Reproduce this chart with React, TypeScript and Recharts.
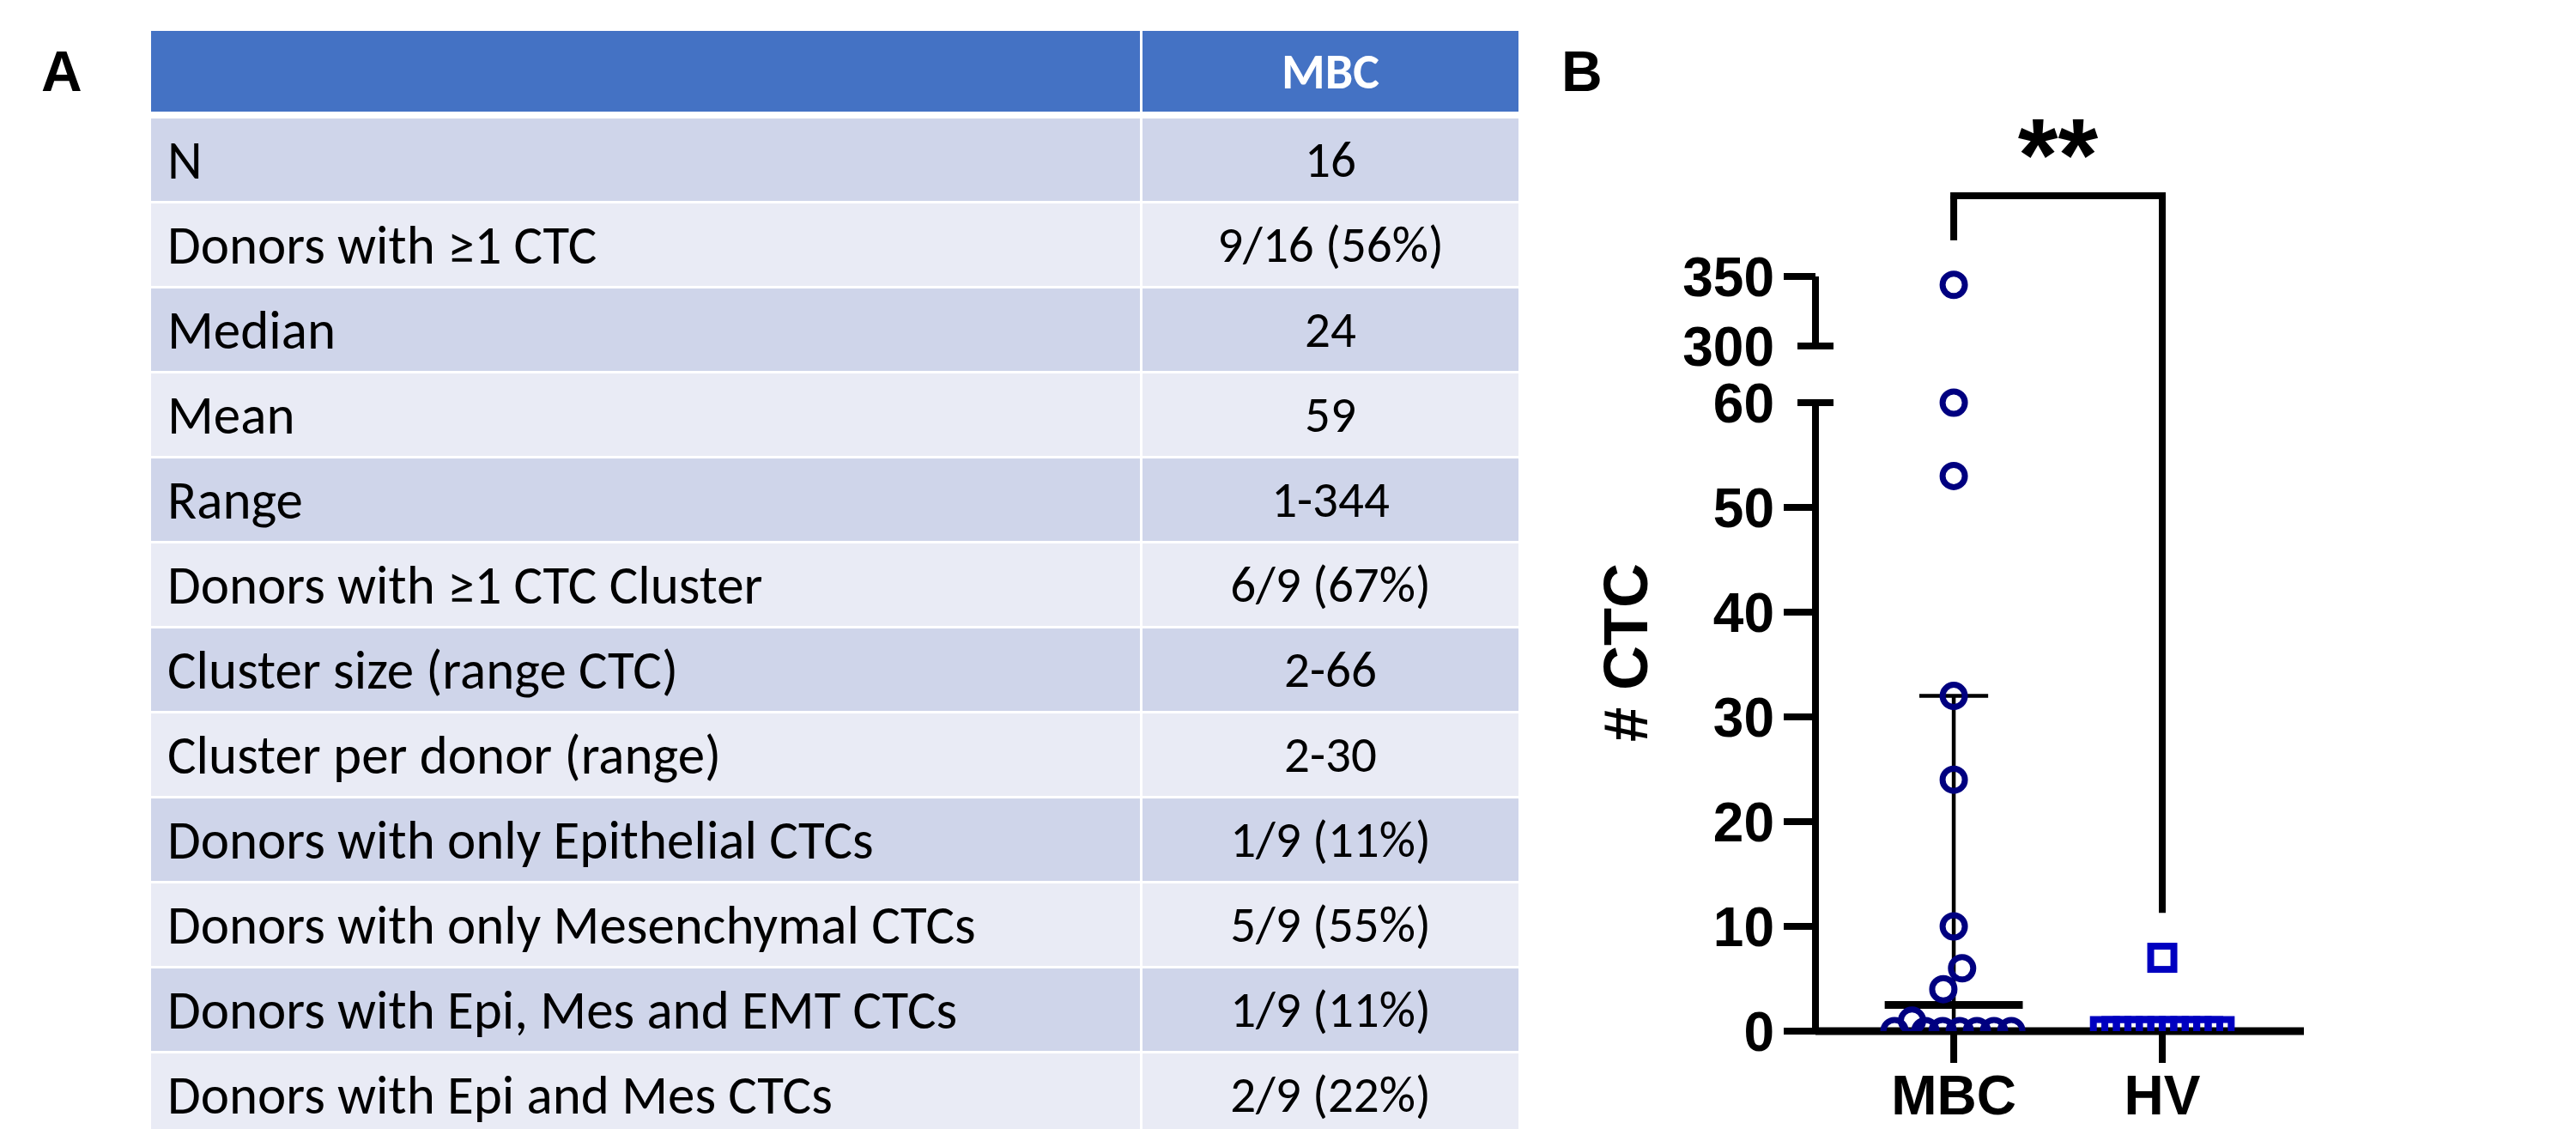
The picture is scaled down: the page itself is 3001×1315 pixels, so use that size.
import React from 'react';
import { ScatterChart, Scatter, XAxis, YAxis, ReferenceLine, Label } from 'recharts';

// --- Panel A: summary table ---
const tableHeader = 'MBC';
const rowLabels = [
  'N',
  'Donors with ≥1 CTC',
  'Median',
  'Mean',
  'Range',
  'Donors with ≥1 CTC Cluster',
  'Cluster size (range CTC)',
  'Cluster per donor (range)',
  'Donors with only Epithelial CTCs',
  'Donors with only Mesenchymal CTCs',
  'Donors with Epi, Mes and EMT CTCs',
  'Donors with Epi and Mes CTCs',
];
const rowValues = [
  '16', '9/16 (56%)', '24', '59', '1-344', '6/9 (67%)',
  '2-66', '2-30', '1/9 (11%)', '5/9 (55%)', '1/9 (11%)', '2/9 (22%)',
];

// --- Panel B: # CTC per donor ---
const groups = ['MBC', 'HV'];
const mbcValues = [344, 60, 53, 32, 24, 10, 6, 4, 1, 0, 0, 0, 0, 0, 0, 0];
const mbcJitter = [0, 0, 0, 0, 0, 0, 0.04, -0.05, -0.2, -0.284, -0.136, -0.053, 0.029, 0.111, 0.193, 0.276];
const hvValues = [7, 0, 0, 0, 0, 0, 0, 0, 0, 0, 0, 0];
const hvJitter = [0, -0.275, -0.22, -0.165, -0.11, -0.055, 0, 0.055, 0.11, 0.165, 0.22, 0.275];
const mbcMedian = 2.5;
const mbcQ1 = 0;
const mbcQ3 = 32;
const lowerTicks = [0, 10, 20, 30, 40, 50, 60];
const upperTicks = [300, 350];
const significance = '**';

// broken axis: 0-60 linear, then a gap, then 300-350 compressed
const BREAK_LOW = 60;
const BREAK_HIGH = 300;
const GAP = 5.4;
const UPPER_K = 0.133;
const toPlot = (v: number) => (v <= BREAK_LOW ? v : BREAK_LOW + GAP + (v - BREAK_HIGH) * UPPER_K);
const fromPlot = (t: number) => (t <= BREAK_LOW + 0.01 ? t : Math.round(BREAK_HIGH + (t - BREAK_LOW - GAP) / UPPER_K));

const X_MIN = 0.337;
const X_MAX = 2.679;
const Y_MAX = 80;
const BRACKET_TOP = 79.75;
const BRACKET_LEFT_END = 75.5;
const BRACKET_RIGHT_END = 11.3;

const mbcPoints = mbcValues.map((v, i) => ({ x: 1 + mbcJitter[i], y: toPlot(v) }));
const hvPoints = hvValues.map((v, i) => ({ x: 2 + hvJitter[i], y: toPlot(v) }));

const FONT = '"Liberation Sans", Arial, sans-serif';
const TICK = 37;
const TICK_MARGIN = 11;

const YTick = (props: any) => {
  const { x, y, payload } = props;
  const value = fromPlot(payload.value);
  const ax = x + TICK + TICK_MARGIN;
  const isBreak = value === BREAK_LOW || value === BREAK_HIGH;
  return (
    <g>
      <line
        x1={isBreak ? ax - 21 : ax - TICK}
        x2={isBreak ? ax + 21 : ax}
        y1={y}
        y2={y}
        stroke="#000"
        strokeWidth={8}
      />
      <text x={x} y={y} dy="0.36em" textAnchor="end" fontFamily={FONT} fontWeight={700} fontSize={64} fill="#000">
        {value}
      </text>
    </g>
  );
};

const Ring = (p: any) => <circle cx={p.cx} cy={p.cy} r={13} fill="none" stroke="#000080" strokeWidth={7} />;
const Box = (p: any) => (
  <rect x={p.cx - 13.5} y={p.cy - 13.5} width={27} height={27} fill="none" stroke="#0000C0" strokeWidth={8} />
);

function SummaryTable() {
  const cellFont = 'Carlito, Calibri, Lato, sans-serif';
  return (
    <>
      <div style={{ position: 'absolute', left: 176, top: 36, width: 1152, height: 94, background: '#4472C4' }} />
      <div
        style={{
          position: 'absolute', left: 1331, top: 36, width: 438, height: 94, background: '#4472C4',
          color: '#fff', fontFamily: cellFont, fontWeight: 700, fontSize: 58,
          display: 'flex', alignItems: 'center', justifyContent: 'center',
        }}
      >
        {tableHeader}
      </div>
      {rowLabels.map((label, i) => {
        const bg = i % 2 === 0 ? '#CFD5EA' : '#E9EBF5';
        const top = 138 + i * 99;
        return (
          <React.Fragment key={label}>
            <div
              style={{
                position: 'absolute', left: 176, top, width: 1152, height: 96, background: bg,
                fontFamily: cellFont, fontSize: 63, color: '#000', display: 'flex', alignItems: 'center',
                paddingLeft: 19, boxSizing: 'border-box', whiteSpace: 'nowrap',
              }}
            >
              {label}
            </div>
            <div
              style={{
                position: 'absolute', left: 1331, top, width: 438, height: 96, background: bg,
                fontFamily: cellFont, fontSize: 59, color: '#000', display: 'flex', alignItems: 'center',
                justifyContent: 'center', whiteSpace: 'nowrap',
              }}
            >
              {rowValues[i]}
            </div>
          </React.Fragment>
        );
      })}
    </>
  );
}

export default function App() {
  const yTicks = [...lowerTicks, ...upperTicks].map(toPlot);
  const panelLabel = { position: 'absolute' as const, top: 50, fontFamily: FONT, fontWeight: 700, fontSize: 66, lineHeight: '66px' };
  return (
    <div style={{ position: 'relative', width: 3001, height: 1315, background: '#fff', overflow: 'hidden' }}>
      <style>{'body{margin:0}'}</style>
      <div style={{ ...panelLabel, left: 48 }}>A</div>
      <div style={{ ...panelLabel, left: 1819 }}>B</div>
      <SummaryTable />
      <div style={{ position: 'absolute', left: 1800, top: 0 }}>
        <ScatterChart width={1000} height={1315} margin={{ top: 225, right: 116, bottom: 0, left: 0 }}>
          <XAxis
            type="number"
            dataKey="x"
            domain={[X_MIN, X_MAX]}
            ticks={[1, 2]}
            allowDataOverflow
            interval={0}
            tickFormatter={(v: number) => groups[v - 1]}
            axisLine={{ stroke: '#000', strokeWidth: 9 }}
            tickLine={{ stroke: '#000', strokeWidth: 8 }}
            tickSize={TICK}
            tickMargin={15}
            height={114}
            tick={{ fill: '#000', fontFamily: FONT, fontWeight: 700, fontSize: 64 }}
          />
          <YAxis
            type="number"
            dataKey="y"
            domain={[0, Y_MAX]}
            ticks={yTicks}
            allowDataOverflow
            interval={0}
            width={315}
            axisLine={false}
            tickLine={false}
            tickSize={TICK}
            tickMargin={TICK_MARGIN}
            tick={<YTick />}
          >
            <Label
              value="# CTC"
              angle={-90}
              position="center"
              dx={-64}
              dy={47}
              style={{ fill: '#000', fontFamily: FONT, fontWeight: 700, fontSize: 72, textAnchor: 'middle' }}
            />
          </YAxis>
          {/* y axis, drawn in two pieces around the break */}
          <ReferenceLine segment={[{ x: X_MIN, y: 0 }, { x: X_MIN, y: BREAK_LOW }]} stroke="#000" strokeWidth={8} />
          <ReferenceLine
            segment={[{ x: X_MIN, y: toPlot(BREAK_HIGH) }, { x: X_MIN, y: toPlot(upperTicks[1]) }]}
            stroke="#000"
            strokeWidth={8}
          />
          <Scatter data={mbcPoints} shape={Ring} isAnimationActive={false} zIndex={650} />
          <Scatter data={hvPoints} shape={Box} isAnimationActive={false} zIndex={650} />
          {/* median with interquartile range */}
          <ReferenceLine segment={[{ x: 1, y: mbcQ1 }, { x: 1, y: mbcQ3 }]} stroke="#000" strokeWidth={4.5} />
          <ReferenceLine segment={[{ x: 1 - 0.165, y: mbcQ3 }, { x: 1 + 0.165, y: mbcQ3 }]} stroke="#000" strokeWidth={4.5} />
          <ReferenceLine segment={[{ x: 1 - 0.165, y: mbcQ1 }, { x: 1 + 0.165, y: mbcQ1 }]} stroke="#000" strokeWidth={4.5} />
          <ReferenceLine segment={[{ x: 1 - 0.331, y: mbcMedian }, { x: 1 + 0.331, y: mbcMedian }]} stroke="#000" strokeWidth={9} />
          {/* significance bracket */}
          <ReferenceLine segment={[{ x: 1, y: BRACKET_LEFT_END }, { x: 1, y: BRACKET_TOP }]} stroke="#000" strokeWidth={8} ifOverflow="visible" />
          <ReferenceLine segment={[{ x: 2, y: BRACKET_RIGHT_END }, { x: 2, y: BRACKET_TOP }]} stroke="#000" strokeWidth={8} ifOverflow="visible" />
          <ReferenceLine
            segment={[{ x: 1, y: BRACKET_TOP }, { x: 2, y: BRACKET_TOP }]}
            stroke="#000"
            strokeWidth={8}
            strokeLinecap="square"
            ifOverflow="visible"
            label={{ value: significance, position: 'top', offset: 6, fill: '#000', fontFamily: FONT, fontWeight: 700, fontSize: 120 }}
          />
        </ScatterChart>
      </div>
    </div>
  );
}
